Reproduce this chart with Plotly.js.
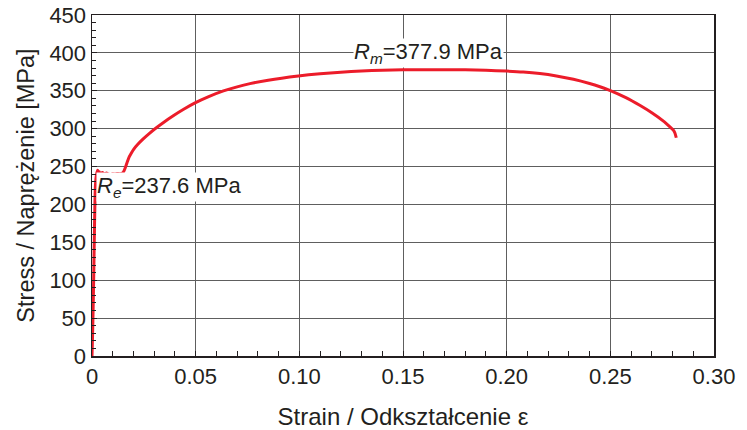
<!DOCTYPE html>
<html>
<head>
<meta charset="utf-8">
<script src="https://cdn.plot.ly/plotly-3.0.1.min.js"></script>
<style>html,body{margin:0;padding:0;background:#fff;}#chart{width:747px;height:430px;}</style>
</head>
<body>
<div id="chart"></div>
<script>
var strain = [0, 0.0003, 0.0006, 0.0008, 0.0010, 0.0012, 0.0014, 0.0016, 0.0019, 0.0023, 0.0027, 0.003, 0.0035, 0.004, 0.005, 0.006, 0.007, 0.008, 0.009, 0.010, 0.011, 0.012, 0.013, 0.0143, 0.0152, 0.016, 0.017, 0.018, 0.019, 0.020, 0.022, 0.0247, 0.028, 0.0312, 0.035, 0.0392, 0.044, 0.0497, 0.056, 0.0634, 0.070, 0.0762, 0.085, 0.0995, 0.110, 0.120, 0.130, 0.140, 0.150, 0.160, 0.170, 0.180, 0.190, 0.200, 0.208, 0.216, 0.224, 0.2322, 0.240, 0.245, 0.250, 0.2575, 0.2644, 0.270, 0.2756, 0.2785, 0.2804, 0.2812, 0.2818];
var stress = [0, 30, 70, 100, 135, 170, 200, 222, 234, 241, 245, 241.5, 243, 240.5, 242, 240, 241.5, 240, 239.5, 240.5, 240, 241, 240.5, 241, 243, 248, 256, 263, 268, 272.5, 279, 286.5, 294.5, 301.5, 309.2, 317, 325.3, 334, 342, 349.8, 355.2, 359.4, 364, 369.5, 372.5, 374.6, 376.1, 377.1, 377.6, 377.9, 377.9, 377.6, 377, 376, 374.8, 372.8, 369.6, 365.2, 359.6, 355.3, 350.3, 341, 330.5, 321, 310, 303, 298, 294, 288];
var xTickVals = [0, 0.05, 0.10, 0.15, 0.20, 0.25, 0.30];
var xTickText = ["0", "0.05", "0.10", "0.15", "0.20", "0.25", "0.30"];
var yTickVals = [0, 50, 100, 150, 200, 250, 300, 350, 400, 450];
var labelRe = "<i>R<sub>e</sub></i>=237.6 MPa";
var labelRm = "<i>R<sub>m</sub></i>=377.9 MPa";
var posRe = [0.0018, 223];
var posRm = [0.1625, 400];

var font = "Liberation Sans, Arial, sans-serif";
var trace = {
  x: strain, y: stress, type: 'scatter', mode: 'lines',
  line: {color: '#ec1c2a', width: 3, shape: 'spline', smoothing: 0.6},
  hoverinfo: 'skip'
};
var layout = {
  width: 747, height: 430,
  margin: {l: 92, r: 33, t: 15, b: 74},
  paper_bgcolor: '#fff', plot_bgcolor: '#fff',
  font: {family: font, size: 22, color: '#231f20'},
  showlegend: false,
  xaxis: {
    range: [0, 0.30], tickmode: 'array', tickvals: xTickVals, ticktext: xTickText,
    showline: true, linecolor: '#231f20', linewidth: 1.5, mirror: true,
    showgrid: true, gridcolor: '#5e5e5e', gridwidth: 1, zeroline: false,
    ticks: 'inside', ticklen: 5, tickcolor: '#231f20',
    minor: {dtick: 0.01, ticks: 'inside', ticklen: 5, tickcolor: '#231f20', showgrid: false},
    tickfont: {size: 22},
    title: {text: 'Strain / Odkształcenie ε', font: {size: 24}, standoff: 24},
    automargin: false
  },
  yaxis: {
    range: [0, 450], tickmode: 'array', tickvals: yTickVals,
    showline: true, linecolor: '#231f20', linewidth: 1.5, mirror: true,
    showgrid: true, gridcolor: '#5e5e5e', gridwidth: 1, zeroline: false,
    ticks: 'inside', ticklen: 5, tickcolor: '#231f20',
    minor: {dtick: 10, ticks: 'inside', ticklen: 4, tickcolor: '#231f20', showgrid: false},
    tickfont: {size: 22},
    title: {text: 'Stress / Naprężenie [MPa]', font: {size: 23.5}, standoff: 8},
    automargin: false
  },
  annotations: [
    {x: posRe[0], y: posRe[1], xref: 'x', yref: 'y', text: labelRe, showarrow: false,
     xanchor: 'left', yanchor: 'middle', bgcolor: '#fff', borderpad: 0, font: {size: 22}},
    {x: posRm[0], y: posRm[1], xref: 'x', yref: 'y', text: labelRm, showarrow: false,
     xanchor: 'center', yanchor: 'middle', bgcolor: '#fff', borderpad: 0, font: {size: 22}}
  ]
};
Plotly.newPlot('chart', [trace], layout, {staticPlot: true, displayModeBar: false});
</script>
</body>
</html>
